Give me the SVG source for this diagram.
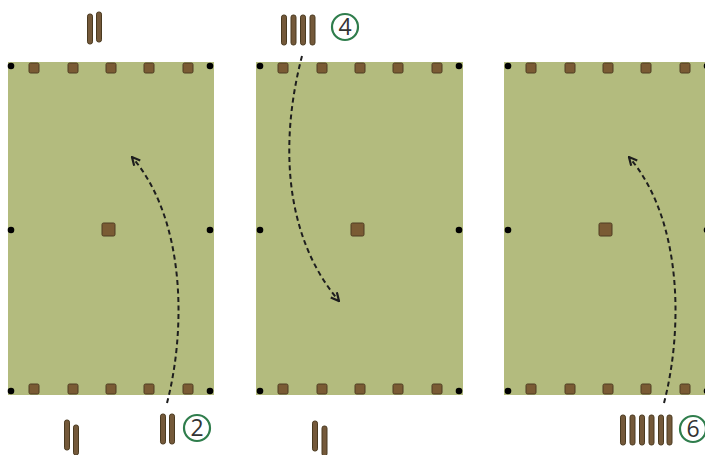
<svg xmlns="http://www.w3.org/2000/svg" width="705" height="455" viewBox="0 0 705 455">
<defs>
<style>
.panel{fill:#b3bb7e}
.post{fill:#7a5b34;stroke:#4f3d22;stroke-width:1}
.dot{fill:#000}
.stick{fill:#74593a;stroke:#4a3a20;stroke-width:1}
.num{fill:#fff;stroke:#2f7d4c;stroke-width:2.2}
.numt{font-family:"Open Sans","DejaVu Sans",sans-serif;font-size:23px;fill:#333;text-anchor:middle}
.arc{fill:none;stroke:#1e1e1e;stroke-width:2;stroke-dasharray:5 3.5}
</style>
<marker id="ah" viewBox="0 0 10 10" refX="9" refY="5" markerWidth="10" markerHeight="10" markerUnits="userSpaceOnUse" orient="auto">
<path d="M1,1 L9,5 L1,9" fill="none" stroke="#1e1e1e" stroke-width="2.2"/>
</marker>
<g id="posts">
<circle class="dot" cx="0" cy="0" r="3.3"/>
<circle class="dot" cx="199" cy="0" r="3.3"/>
<circle class="dot" cx="0" cy="164" r="3.3"/>
<circle class="dot" cx="199" cy="164" r="3.3"/>
<circle class="dot" cx="0" cy="325" r="3.3"/>
<circle class="dot" cx="199" cy="325" r="3.3"/>
<rect class="post" x="18" y="-3" width="10" height="10" rx="1.5"/>
<rect class="post" x="57" y="-3" width="10" height="10" rx="1.5"/>
<rect class="post" x="95" y="-3" width="10" height="10" rx="1.5"/>
<rect class="post" x="133" y="-3" width="10" height="10" rx="1.5"/>
<rect class="post" x="172" y="-3" width="10" height="10" rx="1.5"/>
<rect class="post" x="18" y="318" width="10" height="10" rx="1.5"/>
<rect class="post" x="57" y="318" width="10" height="10" rx="1.5"/>
<rect class="post" x="95" y="318" width="10" height="10" rx="1.5"/>
<rect class="post" x="133" y="318" width="10" height="10" rx="1.5"/>
<rect class="post" x="172" y="318" width="10" height="10" rx="1.5"/>
<rect class="post" x="91" y="157" width="13" height="13" rx="1.5"/>
</g>
</defs>

<g id="panel1">
<rect class="panel" x="8" y="62" width="206" height="333"/>
<use href="#posts" x="11" y="66"/>
</g>
<g id="panel2">
<rect class="panel" x="256" y="62" width="207" height="333"/>
<use href="#posts" x="260" y="66"/>
</g>
<g id="panel3">
<rect class="panel" x="504" y="62" width="207" height="333"/>
<use href="#posts" x="508" y="66"/>
</g>

<g id="tally-top1">
<rect class="stick" x="87.5" y="14" width="5" height="30" rx="2.2"/>
<rect class="stick" x="96.5" y="12" width="5" height="30" rx="2.2"/>
</g>
<g id="tally-bottom1">
<rect class="stick" x="64.5" y="420" width="5" height="30" rx="2.2"/>
<rect class="stick" x="73.5" y="425" width="5" height="30" rx="2.2"/>
</g>
<g id="tally-2">
<rect class="stick" x="160.5" y="414" width="5" height="30" rx="2.2"/>
<rect class="stick" x="169.5" y="414" width="5" height="30" rx="2.2"/>
<circle class="num" cx="197" cy="428" r="13"/>
<text class="numt" x="197" y="436">2</text>
</g>
<g id="tally-4">
<rect class="stick" x="281.5" y="15" width="5" height="30" rx="2.2"/>
<rect class="stick" x="291" y="15" width="5" height="30" rx="2.2"/>
<rect class="stick" x="300.5" y="15" width="5" height="30" rx="2.2"/>
<rect class="stick" x="310" y="15" width="5" height="30" rx="2.2"/>
<circle class="num" cx="345" cy="27" r="13"/>
<text class="numt" x="345" y="35">4</text>
</g>
<g id="tally-bottom2">
<rect class="stick" x="312.5" y="421" width="5" height="30" rx="2.2"/>
<rect class="stick" x="322" y="426" width="5" height="30" rx="2.2"/>
</g>
<g id="tally-6">
<rect class="stick" x="620.5" y="415" width="5" height="30" rx="2.2"/>
<rect class="stick" x="630" y="415" width="5" height="30" rx="2.2"/>
<rect class="stick" x="639.5" y="415" width="5" height="30" rx="2.2"/>
<rect class="stick" x="649" y="415" width="5" height="30" rx="2.2"/>
<rect class="stick" x="658.5" y="415" width="5" height="30" rx="2.2"/>
<rect class="stick" x="667" y="415" width="5" height="30" rx="2.2"/>
<circle class="num" cx="693" cy="429" r="13"/>
<text class="numt" x="693" y="437">6</text>
</g>

<g id="connectors">
<path class="arc" d="M167,403 C186,330 186,220 132,157" marker-end="url(#ah)"/>
<path class="arc" d="M302,56 C280,140 283,235 339,301" marker-end="url(#ah)"/>
<path class="arc" d="M664,403 C683,330 683,220 629,157" marker-end="url(#ah)"/>
</g>
</svg>
